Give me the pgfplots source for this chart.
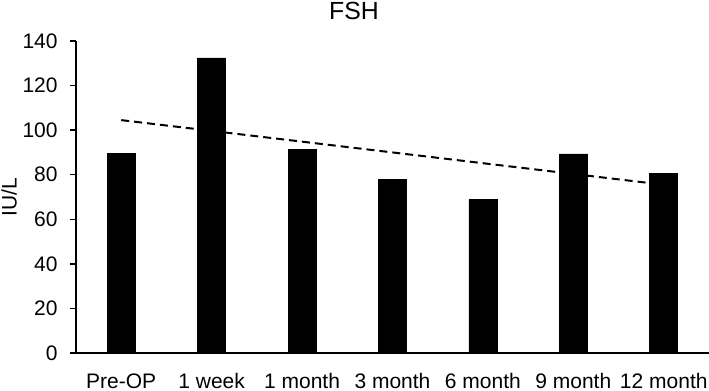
\documentclass[border=0pt]{standalone}
\usepackage{fontspec}
\setmainfont{Liberation Sans}
\usepackage{pgfplots}
\pgfplotsset{compat=1.18}
\begin{document}
\begin{tikzpicture}
\begin{axis}[
  scale only axis,
  width=316.5pt, height=156pt,
  at={(0pt,0pt)}, anchor=south west,
  xmin=-0.5, xmax=6.5, ymin=0, ymax=140,
  axis x line*=bottom, axis y line*=left,
  axis line style={line width=0.75pt, black},
  xtick={0,1,2,3,4,5,6},
  xticklabels={Pre-OP,1 week,1 month,3 month,6 month,9 month,12 month},
  ytick={0,20,40,60,80,100,120,140},
  tick align=outside,
  major tick length=3pt,
  x tick style={draw=none},
  tick style={line width=0.75pt, black},
  /pgf/number format/assume math mode=true,
  ticklabel style={font=\fontsize{10.5}{12}\selectfont},
  xticklabel style={anchor=base, inner sep=0pt, yshift=-15pt},
  yticklabel style={anchor=east, inner sep=0pt, xshift=-6pt},
  clip=false,
]
\addplot[ybar, bar width=14pt, fill=black, draw=black] coordinates {
  (0,89.6) (1,132.4) (2,91.2) (3,78.0) (4,68.9) (5,89.3) (6,80.6)
};
\addplot[black, line width=1pt, dash pattern=on 4pt off 2.5pt] coordinates {
  (0,104.5) (6,75.5)
};
\end{axis}
\node[anchor=north, inner sep=0pt, font=\fontsize{12.4}{14}\selectfont] at (139pt,175.7pt) {FSH};
\node[rotate=90, anchor=north, inner sep=0pt, font=\fontsize{10.5}{12}\selectfont] at (-37.5pt,78pt) {IU/L};
\pgfresetboundingbox
\useasboundingbox (-38pt,-19pt) rectangle (316.5pt,176.5pt);
\end{tikzpicture}
\end{document}
